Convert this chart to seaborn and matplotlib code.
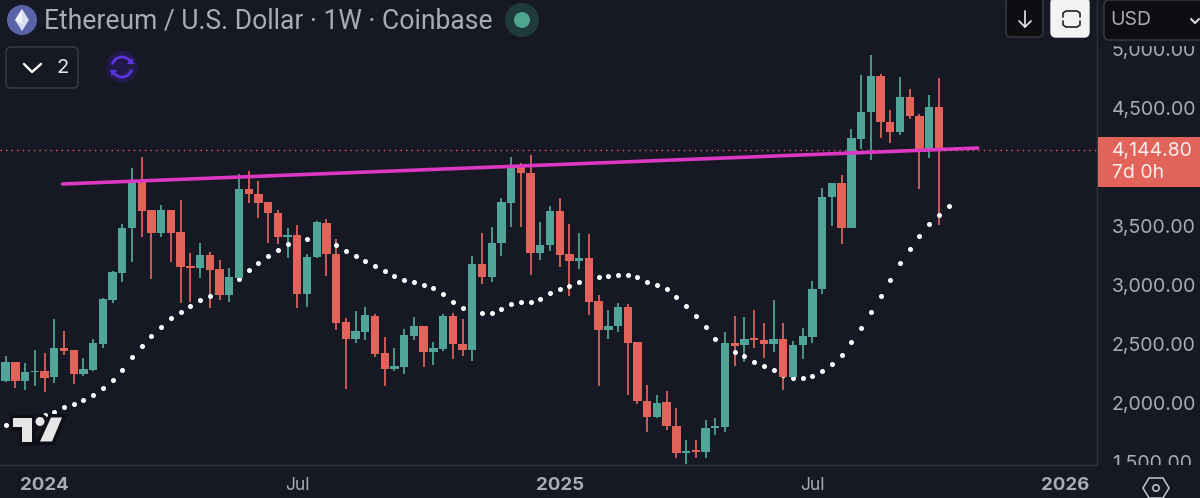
import matplotlib
matplotlib.use('Agg')
import matplotlib.pyplot as plt
import numpy as np
import pandas as pd
import seaborn as sns
from matplotlib.patches import Circle, FancyBboxPatch, Polygon, Rectangle, Arc

# weekly candles ETH/USD
opens = [2184, 2345, 2187, 2258, 2272, 2215, 2464, 2450, 2246, 2277,
         2498, 2872, 3104, 3480, 3876, 3636, 3443, 3639, 3446, 3158,
         3141, 3254, 3132, 2917, 3058, 3814, 3769, 3701, 3610, 3407,
         3421, 2920, 3234, 3528, 3262, 2682, 2543, 2603, 2739, 2419,
         2286, 2306, 2566, 2651, 2430, 2459, 2739, 2498, 2444, 3177,
         3064, 3356, 3698, 3998, 3950, 3268, 3336, 3627, 3259, 3200,
         3225, 2860, 2617, 2651, 2812, 2512, 2014, 1876, 2003, 1802,
         1570, 1598, 1578, 1782, 1796, 2509, 2489, 2549, 2535, 2501,
         2538, 2218, 2489, 2560, 2962, 3749, 3868, 3486, 4241, 4468,
         4773, 4383, 4295, 4598, 4437, 4145, 4507]
closes = [2345, 2187, 2258, 2272, 2212, 2464, 2442, 2246, 2283, 2504,
          2880, 3107, 3486, 3862, 3630, 3443, 3636, 3443, 3149, 3146,
          3254, 3126, 2917, 3064, 3814, 3769, 3698, 3610, 3407, 3421,
          2920, 3240, 3531, 3259, 2679, 2543, 2606, 2742, 2416, 2286,
          2309, 2572, 2651, 2430, 2464, 2739, 2495, 2444, 3177, 3064,
          3358, 3704, 3995, 3947, 3268, 3341, 3627, 3254, 3200, 3225,
          2858, 2617, 2654, 2812, 2510, 2011, 1876, 2000, 1802, 1570,
          1590, 1581, 1785, 1802, 2509, 2481, 2543, 2535, 2501, 2538,
          2218, 2492, 2563, 2968, 3749, 3868, 3486, 4244, 4470, 4773,
          4380, 4295, 4598, 4437, 4145, 4507, 4144.8]
highs = [2396, 2345, 2340, 2447, 2425, 2710, 2611, 2450, 2382, 2538,
         2892, 3118, 3517, 3995, 4089, 3636, 3675, 3639, 3724, 3274,
         3353, 3282, 3211, 3146, 3941, 3967, 3882, 3707, 3633, 3480,
         3511, 3262, 3542, 3557, 3387, 2716, 2776, 2815, 2750, 2560,
         2461, 2626, 2725, 2651, 2512, 2753, 2758, 2713, 3245, 3438,
         3494, 3741, 4089, 4032, 4100, 3534, 3670, 3735, 3520, 3443,
         3435, 2917, 2787, 2849, 2835, 2512, 2147, 2065, 2099, 1952,
         1683, 1683, 1853, 1867, 2603, 2736, 2730, 2787, 2673, 2872,
         2673, 2523, 2631, 3030, 3820, 3868, 3933, 4326, 4785, 4952,
         4790, 4487, 4762, 4663, 4451, 4612, 4753]
lows = [2178, 2122, 2108, 2142, 2093, 2164, 2405, 2159, 2226, 2266,
        2467, 2849, 3027, 3197, 3404, 3053, 3409, 3194, 2843, 2858,
        3061, 2807, 2872, 2852, 3041, 3692, 3568, 3353, 3347, 3225,
        2801, 2815, 3228, 3078, 2617, 2113, 2504, 2532, 2391, 2144,
        2272, 2246, 2532, 2300, 2323, 2439, 2374, 2399, 2351, 3005,
        3025, 3245, 3494, 3491, 3087, 3208, 3288, 3149, 2908, 3135,
        2741, 2144, 2541, 2603, 2065, 1986, 1751, 1867, 1768, 1530,
        1476, 1530, 1530, 1725, 1748, 2314, 2342, 2467, 2376, 2433,
        2107, 2187, 2368, 2509, 2925, 3503, 3347, 3486, 4156, 4057,
        4250, 4207, 4270, 4405, 3817, 4080, 3505]
# white dotted indicator, goes one week past the last candle
dots = [1811, 1833, 1853, 1876, 1895, 1924, 1960, 1986, 2020, 2065,
        2127, 2190, 2277, 2388, 2484, 2563, 2645, 2716, 2770, 2821,
        2872, 2908, 2957, 3005, 3053, 3129, 3189, 3245, 3299, 3350,
        3378, 3392, 3381, 3361, 3342, 3291, 3248, 3206, 3160, 3118,
        3078, 3044, 3022, 3000, 2971, 2923, 2855, 2801, 2773, 2764,
        2759, 2795, 2835, 2852, 2852, 2883, 2934, 2968, 2991, 3027,
        3047, 3067, 3075, 3081, 3081, 3064, 3022, 3000, 2968, 2894,
        2821, 2738, 2645, 2540, 2490, 2433, 2396, 2345, 2308, 2277,
        2235, 2206, 2206, 2226, 2266, 2331, 2407, 2515, 2637, 2772,
        2908, 3038, 3183, 3307, 3418, 3517, 3593, 3667]
line_dates = ['2024-01-14', '2025-11-03']
line_prices = [3857, 4162]
last_price = 4144.80
# 4,000 sits behind the last price tag in the reference
price_ticks = [1500, 2000, 2500, 3000, 3500, 4500, 5000]
time_ticks = ['2024-01-01', '2024-07-01', '2025-01-06', '2025-07-07', '2026-01-05']
time_labels = ['2024', 'Jul', '2025', 'Jul', '2026']

BG = '#161823'
GREEN = '#51a598'
RED = '#e2635a'
PINK = '#dc38c4'
EDGE = '#30323c'
TXT = '#a9acb6'

sns.set_theme(style='dark')
plt.rcParams['font.family'] = ['Inter', 'DejaVu Sans']

week_dates = pd.date_range('2023-12-04', periods=len(dots), freq='7D')
df = pd.DataFrame({'date': week_dates[:len(opens)], 'open': opens, 'close': closes,
                   'high': highs, 'low': lows})
df['color'] = np.where(df['close'] >= df['open'], GREEN, RED)
df_dots = pd.DataFrame({'date': week_dates, 'value': dots})
df_line = pd.DataFrame({'date': pd.to_datetime(line_dates), 'price': line_prices})

fig = plt.figure(figsize=(12, 4.98), dpi=100, facecolor=BG)
ax = fig.add_axes([0, 33 / 498, 1097 / 1200, 465 / 498], facecolor=BG)

ax.axhline(last_price, color=RED, lw=1, ls=(0, (1, 3)), zorder=1)
ax.vlines(df['date'], df['low'], df['high'], colors=df['color'], lw=1.25, zorder=2)
sns.scatterplot(data=df_dots, x='date', y='value', color='white', s=13, linewidth=0,
                zorder=3, legend=False, ax=ax)
ax.bar(df['date'], (df['close'] - df['open']).abs().clip(lower=12),
       bottom=df[['open', 'close']].min(axis=1), width=6.0, color=df['color'],
       linewidth=0, zorder=4)
sns.lineplot(data=df_line, x='date', y='price', color=PINK, lw=2.6, zorder=5,
             legend=False, ax=ax)

first = week_dates[0]
ax.set_xlim(first - pd.Timedelta(days=4.08), first + pd.Timedelta(days=785.9))
ax.set_ylim(1471, 5419)
ax.set_xlabel('')
ax.set_ylabel('')
ax.yaxis.tick_right()
ax.set_yticks(price_ticks)
ax.set_yticklabels([f'{p:,.2f}' for p in price_ticks], color=TXT, fontsize=14)
ax.set_xticks(pd.to_datetime(time_ticks))
ax.set_xticklabels(time_labels, fontsize=13.5, color=TXT)
for lab, txt in zip(ax.get_xticklabels(), time_labels):
    if txt != 'Jul':
        lab.set_fontweight('bold')
    else:
        lab.set_fontsize(12.5)
ax.tick_params(axis='y', length=0, pad=10.5)
ax.tick_params(axis='x', length=0, pad=8.5)
ax.grid(False)
for side in ['top', 'left']:
    ax.spines[side].set_visible(False)
for side in ['right', 'bottom']:
    ax.spines[side].set_color(EDGE)
    ax.spines[side].set_linewidth(1)

# screen chrome, in picture pixels on a see-through axes on top
ui = fig.add_axes([0, 0, 1, 1], zorder=10)
ui.set_xlim(0, 1200)
ui.set_ylim(498, 0)
ui.axis('off')

def button(x0, y0, x1, y1, face, edge, r=5):
    ui.add_patch(FancyBboxPatch((x0 + r, y0 + r), x1 - x0 - 2 * r, y1 - y0 - 2 * r,
                                boxstyle=f'round,pad={r},rounding_size={r}',
                                fc=face, ec=edge, lw=1))

# covers that cut the 5,000 and 1,500 labels
ui.add_patch(Rectangle((1098, 465), 102, 33, fc=BG, ec='none'))
ui.add_patch(Rectangle((1098, 0), 102, 46, fc=BG, ec='none'))

# header
ui.add_patch(Circle((22, 20), 15, fc='#5a63a6', ec='none'))
ui.add_patch(Polygon([(22, 9), (29, 20), (22, 31), (15, 20)], fc='#d9dcf0', ec='none'))
ui.add_patch(Polygon([(22, 9), (15, 20), (22, 24)], fc='#f2f3fa', ec='none'))
ui.text(44, 20.5, 'Ethereum / U.S. Dollar · 1W · Coinbase', color=TXT, fontsize=19.1,
        family=['Roboto', 'DejaVu Sans'], va='center', ha='left')
ui.add_patch(Circle((522, 20), 17, fc='#1f3a3c', ec='none'))
ui.add_patch(Circle((522, 20), 8, fc='#4fa58e', ec='none'))

button(6, 47, 78, 88, BG, '#3c3e47')
ui.plot([24, 32, 41], [64, 72, 64], color='white', lw=1.7)
ui.text(63, 68, '2', color='#e8e9ee', fontsize=14.5, va='center', ha='center')
ui.add_patch(Circle((122, 67), 16, fc='#221a4a', ec='none'))
ui.add_patch(Arc((122, 67), 20, 20, theta1=195, theta2=335, color='#5a35e0', lw=2))
ui.add_patch(Arc((122, 67), 20, 20, theta1=15, theta2=155, color='#5a35e0', lw=2))
ui.add_patch(Polygon([(127, 64), (134, 64), (132, 58)], fc='#5a35e0', ec='none'))
ui.add_patch(Polygon([(110, 70), (117, 70), (112, 76)], fc='#5a35e0', ec='none'))

# top right buttons
button(1006, -2, 1043, 37, '#0e0e12', '#3a3c44')
ui.plot([1025, 1025], [11, 27], color='#e8e9ee', lw=1.2)
ui.plot([1019, 1025, 1031], [21, 27, 21], color='#e8e9ee', lw=1.2)
button(1051, -2, 1089, 37, '#f2f2f2', '#f2f2f2')
ui.plot([1063, 1063, 1066, 1077, 1080, 1080], [17, 13, 11, 11, 13, 17], color='#222', lw=1.2)
ui.plot([1063, 1063, 1066, 1077, 1080, 1080], [21, 25, 27, 27, 25, 21], color='#222', lw=1.2)
button(1104, 0, 1215, 40, '#0e0e12', '#3a3c44')
ui.text(1110, 20, 'USD', color=TXT, fontsize=14, va='center', ha='left')
ui.plot([1191, 1195, 1199], [19, 23, 19], color='#d8d8dc', lw=1.5)

# last price tag
ui.add_patch(Rectangle((1098, 137), 102, 50, fc=RED, ec='none'))
ui.text(1112, 150.5, f'{last_price:,.2f}', color='#f8eeec', fontsize=14, va='center', ha='left')
ui.text(1112, 173, '7d 0h', color='#f8eeec', fontsize=14, va='center', ha='left')

# settings hexagon
ui.add_patch(Polygon([(1149, 478), (1163, 478), (1169, 488), (1163, 498), (1149, 498), (1143, 488)],
                     fc='none', ec='#c6c8d0', lw=1.1))
ui.add_patch(Circle((1156, 488), 3.2, fc='none', ec='#c6c8d0', lw=1.1))

# TradingView mark, dark rim hides the dots behind it
tv_t = [(13, 418), (32, 418), (32, 441.5), (22, 441.5), (22, 427), (13, 427)]
tv_slash = [(51, 417.5), (62, 417.5), (52, 441.5), (40, 441.5)]
for rim, face, lw in [('#0f1017', '#0f1017', 5), ('none', '#e6e6e6', 0)]:
    ui.add_patch(Polygon(tv_t, fc=face, ec=rim, lw=lw))
    ui.add_patch(Circle((40, 421.5), 4.5, fc=face, ec=rim, lw=lw))
    ui.add_patch(Polygon(tv_slash, fc=face, ec=rim, lw=lw))

fig.savefig('out.png', dpi=100, facecolor=BG)
